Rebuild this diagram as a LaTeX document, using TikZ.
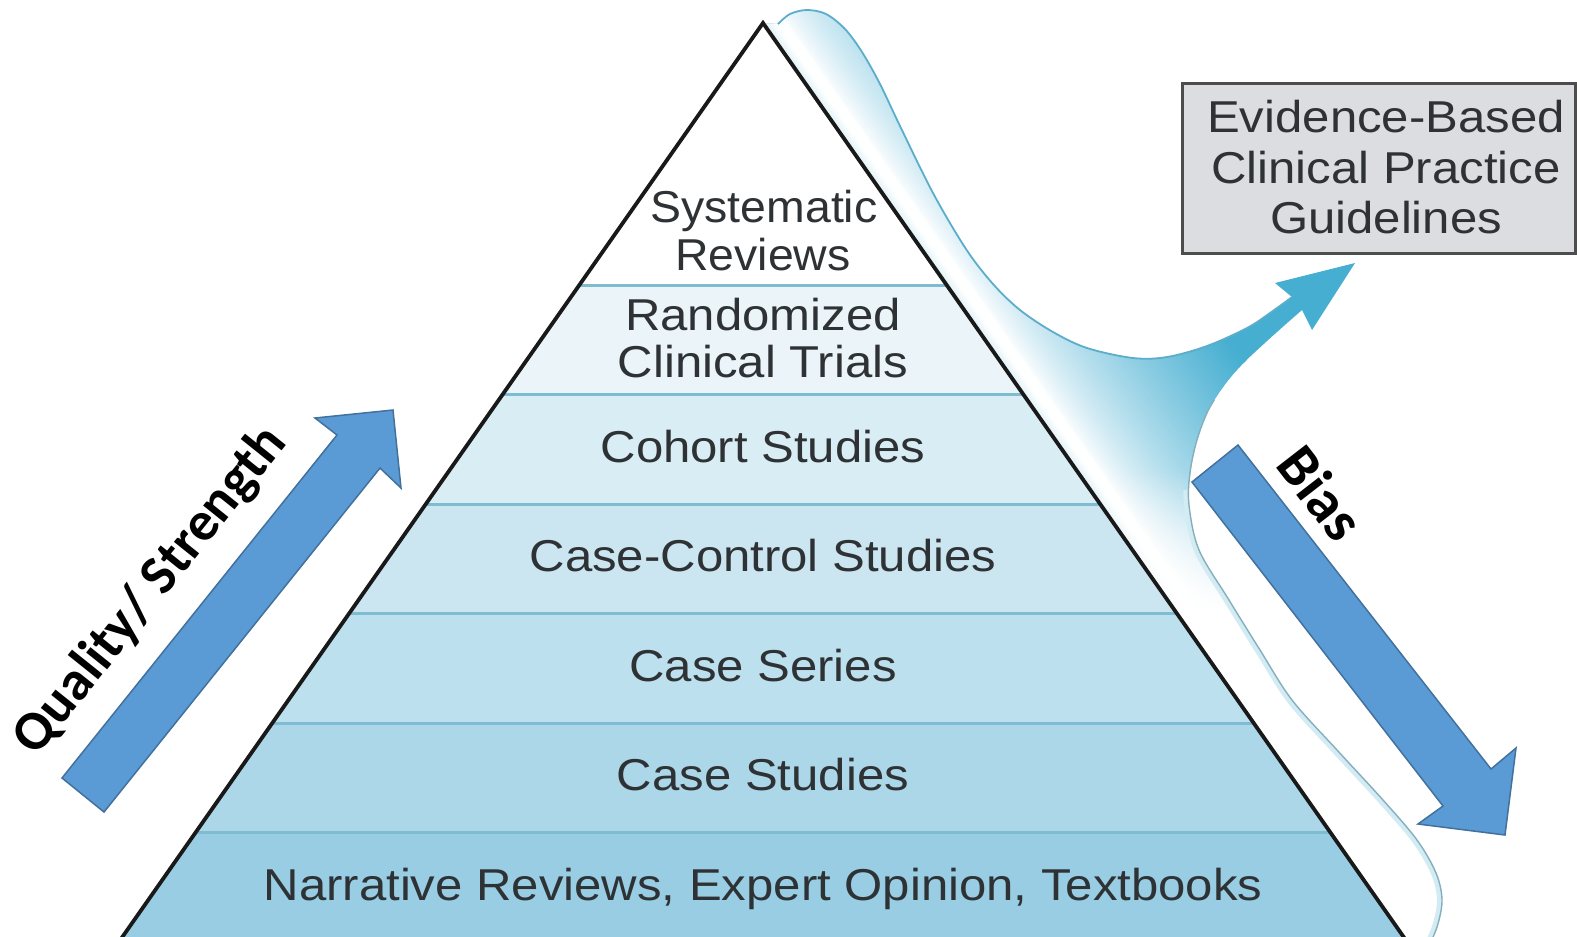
\documentclass[tikz,border=0pt]{standalone}
\usepackage{fontspec}
\setmainfont{Liberation Sans}
\newfontfamily\tierfont[FakeStretch=1.10]{Liberation Sans}
\newfontfamily\apexfont[FakeStretch=1.04]{Liberation Sans}
\newfontfamily\calloutfont{Carlito}
\usetikzlibrary{fadings}

\definecolor{bandA}{HTML}{FFFFFF}
\definecolor{bandB}{HTML}{EAF4F9}
\definecolor{bandC}{HTML}{D9EDF5}
\definecolor{bandD}{HTML}{CBE6F1}
\definecolor{bandE}{HTML}{BDE0EE}
\definecolor{bandF}{HTML}{ACD7E9}
\definecolor{bandG}{HTML}{98CDE3}
\definecolor{bandline}{HTML}{7FBCD1}
\definecolor{tiertext}{HTML}{2E3235}
\definecolor{swoosh}{HTML}{45AED1}
\definecolor{ribbonedge}{HTML}{5BAECB}
\definecolor{lobeedge}{HTML}{86AFBD}
\definecolor{lobeglow}{HTML}{D3EBF3}
\definecolor{guidefill}{HTML}{DCDDE1}
\definecolor{guideedge}{HTML}{4D4D4D}
\definecolor{arrowfill}{HTML}{5B9BD5}
\definecolor{arrowedge}{HTML}{41719C}

\begin{document}
\begin{tikzpicture}[x=0.1mm, y=-0.1mm,
  tier/.style={font=\tierfont\fontsize{12.7}{15}\selectfont, text=tiertext, anchor=base, inner sep=0pt},
  apexlabel/.style={tier, font=\apexfont\fontsize{12.7}{15}\selectfont},
  callout/.style={font=\calloutfont\bfseries\fontsize{15.8}{18}\selectfont, text=black, inner sep=0pt},
  blockarrow/.style={fill=arrowfill, draw=arrowedge, line width=0.15mm, line join=miter},
  divider/.style={draw=bandline, line width=0.3mm},
  pyramidedge/.style={draw=black!90, line width=0.38mm, line join=miter},
  guidebox/.style={draw=guideedge, fill=guidefill, line width=0.3mm, minimum width=39.3mm, minimum height=17mm, inner sep=0pt},
  ribbonline/.style={draw=ribbonedge, line width=0.18mm},
  lobeline/.style={draw=lobeedge, line width=0.14mm},
  curve/.style={smooth, tension=0.55}]
\useasboundingbox (0,0) rectangle (1577,936);
\begin{scope}
\clip (0,0) rectangle (1577,936);
\fill[white] (0,0) rectangle (1577,936);

% swoosh fill: white beside the pyramid, deepening to blue outwards
\begin{scope}
  \clip (763,23)
    -- plot[curve] coordinates {(778,24) (790,14) (807,10) (826,14) (845,29) (862,52) (880,84) (900,126) (933,193) (966,249) (993,284) (1020,310) (1053,332) (1087,348) (1133,358) (1167,357) (1207,346) (1247,328) (1270,313) (1292,297)}
    -- (1275,283) -- (1355,263) -- (1312,330)
    -- plot[curve] coordinates {(1302,310) (1267,341) (1234,373) (1210,407) (1197,440) (1190,473) (1189,505) (1199,550) (1229,600) (1260,650) (1292,700) (1337,750) (1383,800) (1417,840) (1436,873) (1442,900) (1437,927) (1426,952)}
    -- (1412,960) -- cycle;
  \fill[swoosh] (700,0) rectangle (1577,980);
  \foreach \d in {0,2,...,200} {
    \pgfmathsetmacro{\e}{max(0,16*(1-\d/9))}
    \pgfmathsetmacro{\r}{min(100,100*(max(\d-18,0.1)/182)^0.75)}
    \pgfmathsetmacro{\p}{max(\e,\r)}
    \fill[swoosh!\p!white]
      ({763+0.8188*\d-0.5740*150},{23-0.5740*\d-0.8188*150}) --
      ({763+0.8188*\d+0.5740*1300},{23-0.5740*\d+0.8188*1300}) --
      ({763+0.8188*(\d+2.6)+0.5740*1300},{23-0.5740*(\d+2.6)+0.8188*1300}) --
      ({763+0.8188*(\d+2.6)-0.5740*150},{23-0.5740*(\d+2.6)-0.8188*150}) -- cycle;
  }
  \fill[white, path fading=north] (1100,470) rectangle (1500,610);
  \fill[white] (1100,609) rectangle (1500,980);
  \begin{scope}
    \clip (1150,490) rectangle (1500,980);
    \draw[lobeglow, line width=1mm] plot[curve] coordinates {(1302,310) (1267,341) (1234,373) (1210,407) (1197,440) (1190,473) (1189,505) (1199,550) (1229,600) (1260,650) (1292,700) (1337,750) (1383,800) (1417,840) (1436,873) (1442,900) (1437,927) (1426,952)};
  \end{scope}
\end{scope}
\draw[ribbonline] plot[curve] coordinates {(778,24) (790,14) (807,10) (826,14) (845,29) (862,52) (880,84) (900,126) (933,193) (966,249) (993,284) (1020,310) (1053,332) (1087,348) (1133,358) (1167,357) (1207,346) (1247,328) (1270,313) (1292,297)};
\begin{scope}
  \clip (1150,400) rectangle (1500,980);
  \draw[lobeline] plot[curve] coordinates {(1302,310) (1267,341) (1234,373) (1210,407) (1197,440) (1190,473) (1189,505) (1199,550) (1229,600) (1260,650) (1292,700) (1337,750) (1383,800) (1417,840) (1436,873) (1442,900) (1437,927) (1426,952)};
\end{scope}

% pyramid tiers
\fill[bandA] (763,23) -- (946.7,285) -- (579.3,285) -- cycle;
\fill[bandB] (579.3,285) -- (946.7,285) -- (1023.4,394.5) -- (502.6,394.5) -- cycle;
\fill[bandC] (502.6,394.5) -- (1023.4,394.5) -- (1100.2,504) -- (425.8,504) -- cycle;
\fill[bandD] (425.8,504) -- (1100.2,504) -- (1176.9,613.5) -- (349.1,613.5) -- cycle;
\fill[bandE] (349.1,613.5) -- (1176.9,613.5) -- (1253.7,723) -- (272.3,723) -- cycle;
\fill[bandF] (272.3,723) -- (1253.7,723) -- (1330.5,832.5) -- (195.5,832.5) -- cycle;
\fill[bandG] (195.5,832.5) -- (1330.5,832.5) -- (1419.8,960) -- (106.2,960) -- cycle;
\draw[divider] (579.3,285) -- (946.7,285);
\draw[divider] (502.6,394.5) -- (1023.4,394.5);
\draw[divider] (425.8,504) -- (1100.2,504);
\draw[divider] (349.1,613.5) -- (1176.9,613.5);
\draw[divider] (272.3,723) -- (1253.7,723);
\draw[divider] (195.5,832.5) -- (1330.5,832.5);
\draw[pyramidedge] (106.2,960) -- (763,23) -- (1419.8,960);

% tier labels
\node[apexlabel] (sr1) at (764,222) {Systematic};
\node[apexlabel] (sr2) at (763,270) {Reviews};
\node[tier] (rct1) at (763,330) {Randomized};
\node[tier] (rct2) at (763,377) {Clinical Trials};
\node[tier] (coh) at (763,462) {Cohort Studies};
\node[tier] (cc) at (763,571) {Case-Control Studies};
\node[tier] (cs) at (763,681) {Case Series};
\node[tier] (cst) at (763,790) {Case Studies};
\node[tier] (nr) at (763,900) {Narrative Reviews, Expert Opinion, Textbooks};

% guidelines box
\node[guidebox] (guide) at (1378.5,168) {};
\node[tier] (g1) at (1386,132) {Evidence-Based};
\node[tier] (g2) at (1386,183) {Clinical Practice};
\node[tier] (g3) at (1386,233) {Guidelines};

% side arrows
\draw[blockarrow] (62,778) -- (337,435) -- (315,418) -- (393,410) -- (401,488) -- (380,468) -- (104,812) -- cycle;
\draw[blockarrow] (1192,482) -- (1238,445) -- (1491,769) -- (1516,748) -- (1505,835) -- (1418,824) -- (1443,806) -- cycle;
\node[callout, rotate=51.3] (quality) at (151,591) {Quality/ Strength};
\node[callout, rotate=-52.2, font=\calloutfont\bfseries\fontsize{16.8}{19}\selectfont] (bias) at (1321,493) {Bias};
\end{scope}
\end{tikzpicture}
\end{document}
